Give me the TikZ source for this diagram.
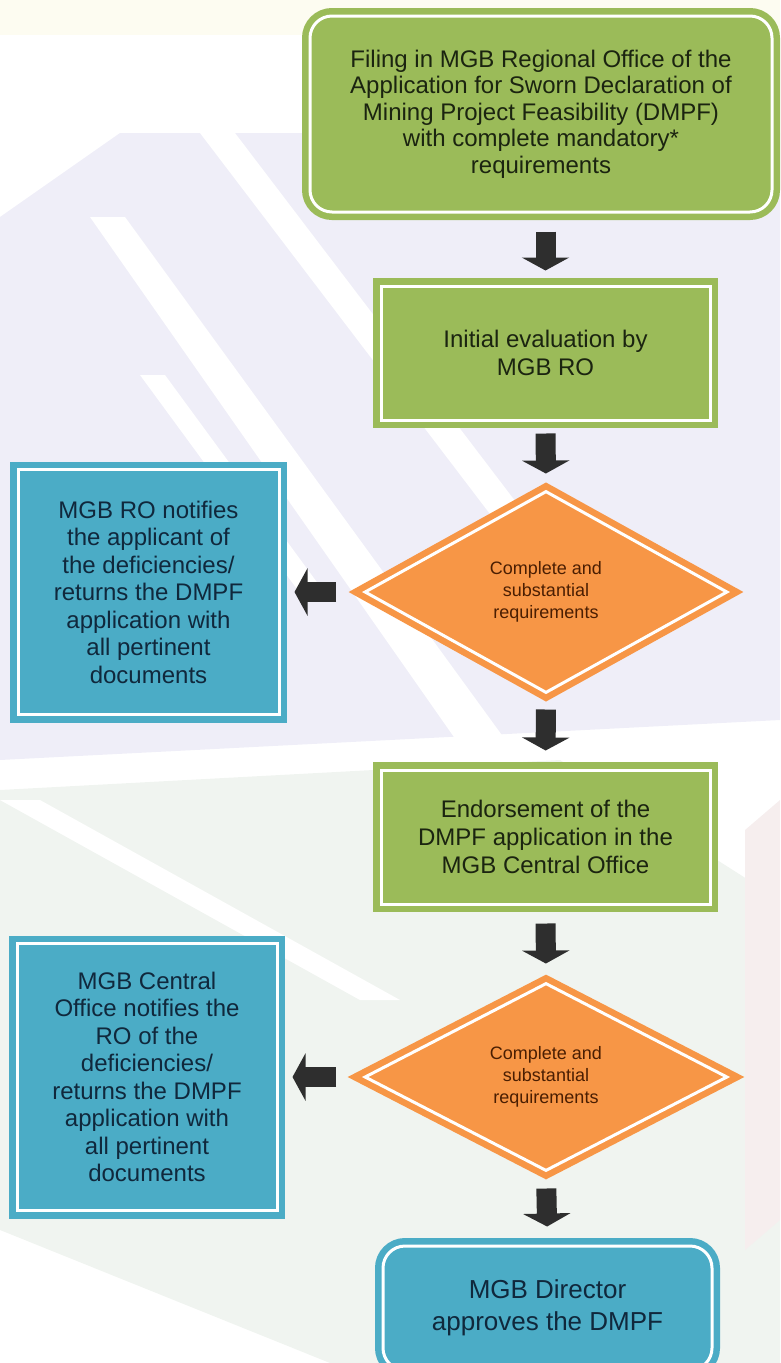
\documentclass[tikz,border=0pt]{standalone}
\usepackage{fontspec}
\setmainfont{Liberation Sans}
\usetikzlibrary{shapes.geometric,arrows.meta}

\definecolor{boxgreen}{HTML}{9BBB59}
\definecolor{boxblue}{HTML}{4BACC6}
\definecolor{boxorange}{HTML}{F79646}
\definecolor{inkgreen}{HTML}{1B2410}
\definecolor{inkblue}{HTML}{10283C}
\definecolor{inkorange}{HTML}{4A1E02}
\definecolor{arrowgray}{HTML}{2E2E2E}
\definecolor{bglilac}{HTML}{EFEEF8}
\definecolor{bgmint}{HTML}{F0F4F0}
\definecolor{bgcream}{HTML}{FDFCF1}
\definecolor{bgpink}{HTML}{F6EEEE}

\tikzset{
  framed/.style={draw=white, line width=3pt, inner sep=0pt, align=center,
    preaction={draw=#1, line width=16pt}, fill=#1},
  greenbox/.style={framed=boxgreen, rectangle, text=inkgreen,
    font=\fontsize{24}{28}\selectfont, minimum width=329pt, minimum height=134pt},
  bluebox/.style={framed=boxblue, rectangle, text=inkblue,
    font=\fontsize{24}{27.5}\selectfont},
  decision/.style={framed=boxorange, diamond, line join=miter, text=inkorange,
    font=\fontsize{18}{22}\selectfont, minimum width=363pt, minimum height=202pt},
  blockarrow/.style={draw=arrowgray, line width=20pt,
    -{Triangle[width=47pt,length=13pt]}}
}

\begin{document}
\begin{tikzpicture}[x=1pt,y=-1pt]
  \useasboundingbox (0,0) rectangle (780,1363);
  \clip (0,0) rectangle (780,1363);

  % faint backdrop
  \fill[bgcream] (0,0) rectangle (780,35);
  \fill[bglilac] (0,217) -- (120,133) -- (780,133) -- (780,720) -- (0,760) -- cycle;
  \fill[white] (90,217) -- (125,217) -- (520,760) -- (470,760) -- cycle;
  \fill[white] (200,133) -- (235,133) -- (560,560) -- (525,560) -- cycle;
  \fill[white] (140,375) -- (165,375) -- (330,600) -- (305,600) -- cycle;
  \fill[bgmint] (0,790) -- (560,760) -- (780,900) -- (780,1363) -- (330,1363) -- (0,1230) -- cycle;
  \fill[white] (0,800) -- (40,800) -- (400,1000) -- (360,1000) -- cycle;
  \fill[bgpink] (745,830) -- (780,800) -- (780,1220) -- (745,1250) -- cycle;

  \node[framed=boxgreen, rounded corners=22pt, text=inkgreen,
    font=\fontsize{24}{26.5}\selectfont, minimum width=462pt, minimum height=196pt]
    (file) at (541,114) {Filing in MGB Regional Office of the\\
    Application for Sworn Declaration of\\
    Mining Project Feasibility (DMPF)\\
    with complete mandatory*\\
    requirements};

  \node[greenbox] (eval) at (545.5,353) {Initial evaluation by\\MGB RO};

  \node[decision] (check1) at (546,592) {Complete and\\substantial\\requirements};

  \node[bluebox, minimum width=261pt, minimum height=245pt] (notify1) at (148.5,592)
    {MGB RO notifies\\the applicant of\\the deficiencies/\\returns the DMPF\\application with\\all pertinent\\documents};

  \node[greenbox] (endorse) at (545.5,837) {Endorsement of the\\DMPF application in the\\MGB Central Office};

  \node[decision, minimum height=188pt] (check2) at (546,1077) {Complete and\\substantial\\requirements};

  \node[bluebox, minimum width=260pt, minimum height=267pt] (notify2) at (147,1077)
    {MGB Central\\Office notifies the\\RO of the\\deficiencies/\\returns the DMPF\\application with\\all pertinent\\documents};

  \node[framed=boxblue, rounded corners=22pt, text=inkblue,
    font=\fontsize{26}{32}\selectfont, minimum width=329pt, minimum height=124pt]
    (approve) at (547.5,1308) {MGB Director\\approves the DMPF};

  \draw[blockarrow, shorten <=18pt, shorten >=14pt] (eval.north |- file.south) -- (eval.north);
  \draw[blockarrow, shorten <=12pt, shorten >=16pt] (eval.south) -- (check1.north);
  \draw[blockarrow, shorten <=15pt, shorten >=18pt] (check1.south) -- (endorse.north);
  \draw[blockarrow, shorten <=18pt, shorten >=18pt] (endorse.south) -- (check2.north);
  \draw[blockarrow, shorten <=16pt, shorten >=18pt] (check2.south) -- (approve.north);

  \draw[blockarrow, shorten <=27pt, shorten >=14pt] (check1.west) -- (notify1.east);
  \draw[blockarrow, shorten <=27pt, shorten >=14pt] (check2.west) -- (notify2.east);
\end{tikzpicture}
\end{document}
